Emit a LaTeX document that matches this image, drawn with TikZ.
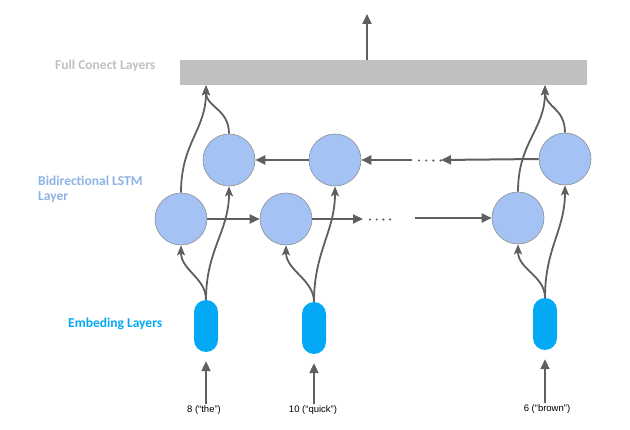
\documentclass[tikz,border=0pt]{standalone}
\usepackage{fontspec}
\setmainfont{Liberation Sans}
\newfontfamily\labfont{Carlito}
\usetikzlibrary{arrows.meta}
\definecolor{arrgray}{HTML}{5F5F5F}
\definecolor{fcgray}{HTML}{C0C0C0}
\definecolor{lstmfill}{HTML}{A4C2F4}
\definecolor{lstmedge}{HTML}{8E8E8E}
\definecolor{embfill}{HTML}{03A9F4}
\definecolor{lstmtext}{HTML}{8DB3E6}
\definecolor{embtext}{HTML}{03A9F4}
\definecolor{fctext}{HTML}{C0C0C0}
\begin{document}
\begin{tikzpicture}[x=1pt,y=-1pt,
  arr/.style={draw=arrgray, line width=2pt, -{Triangle[length=10pt,width=9pt]}},
  curv/.style={draw=arrgray, line width=1.8pt, -{Stealth[length=10pt,width=8pt,inset=2pt]}},
  gapdots/.style={draw=arrgray, line width=2.4pt, line cap=round, dash pattern=on 0pt off #1},
  cell/.style={circle, minimum size=52pt, inner sep=0pt, fill=lstmfill, draw=lstmedge, line width=0.6pt},
  emb/.style={rectangle, rounded corners=12pt, minimum width=24pt, minimum height=52pt, inner sep=0pt, fill=embfill},
  fcbar/.style={rectangle, minimum width=407pt, minimum height=25pt, inner sep=0pt, fill=fcgray},
  layer/.style={font=\labfont\bfseries\fontsize{13.5}{15.5}\selectfont, anchor=west, inner sep=0pt, align=left},
  inlab/.style={font=\fontsize{9.5}{11}\selectfont, inner sep=1pt}
]
\useasboundingbox (0,0) rectangle (630,430);

% full connect layer
\node[fcbar] (fc) at (383.5,72.5) {};
\coordinate (topend) at (367,14);
\draw[arr] (fc.north -| topend) -- (topend);

% labels
\node[layer, text=fctext] (lfc) at (55,66) {Full Conect Layers};
\node[layer, text=lstmtext] (llstm) at (38,189.5) {Bidirectional LSTM\\Layer};
\node[layer, text=embtext] (lemb) at (68,324) {Embeding Layers};

% LSTM cells
\node[cell] (f1) at (181,219) {};
\node[cell] (f2) at (286,219) {};
\node[cell] (f3) at (518,218) {};
\node[cell] (b1) at (229,160) {};
\node[cell] (b2) at (335,160) {};
\node[cell] (b3) at (565,159) {};

% embeddings
\node[emb] (e1) at (206,326) {};
\node[emb] (e2) at (314,328) {};
\node[emb] (e3) at (545,324) {};

% inputs
\node[inlab] (in1) at (204,410) {8 (“the”)};
\node[inlab] (in2) at (313,410) {10 (“quick”)};
\node[inlab] (in3) at (547,409) {6 (“brown”)};
\draw[arr, shorten >=9pt] (e1 |- in1.north) -- (e1.south);
\draw[arr, shorten >=9pt] (e2 |- in2.north) -- (e2.south);
\draw[arr, shorten >=9pt] (e3 |- in3.north) -- (e3.south);

% forward direction
\draw[arr] (f1.east) -- (f2.west);
\coordinate (fstop) at (363,219);
\draw[arr] (f2.east) -- (fstop);
\coordinate (fd1) at (370,219.5);
\coordinate (fd2) at (391,219.5);
\draw[gapdots=6.7pt] (fd1) -- (fd2);
\coordinate (fgo) at (415,218);
\draw[arr] (fgo) -- (f3.west);

% backward direction
\draw[arr] (b2.west) -- (b1.east);
\coordinate (bstop) at (441,160);
\draw[arr] (b3.west) -- (bstop);
\coordinate (bd1) at (419,160.5);
\coordinate (bd2) at (441,160.5);
\draw[gapdots=7.2pt] (bd1) -- (bd2);
\coordinate (bgo) at (412,160);
\draw[arr] (bgo) -- (b2.east);

% embedding -> LSTM
\foreach \e/\f/\b in {e1/f1/b1, e2/f2/b2, e3/f3/b3}{
  \draw[curv] (\e.north) .. controls +(0,-22) and +(0,25) .. (\f.south);
  \draw[curv] (\e.north) .. controls +(0,-50) and +(0,45) .. (\b.south);
}

% LSTM -> full connect
\draw[curv] (f1.north) .. controls +(0,-50) and +(0,45) .. (e1 |- fc.south);
\draw[curv] (b1.north) .. controls +(0,-25) and +(0,22) .. (e1 |- fc.south);
\draw[curv] (f3.north) .. controls +(0,-50) and +(0,45) .. (e3 |- fc.south);
\draw[curv] (b3.north) .. controls +(0,-25) and +(0,22) .. (e3 |- fc.south);
\end{tikzpicture}
\end{document}
